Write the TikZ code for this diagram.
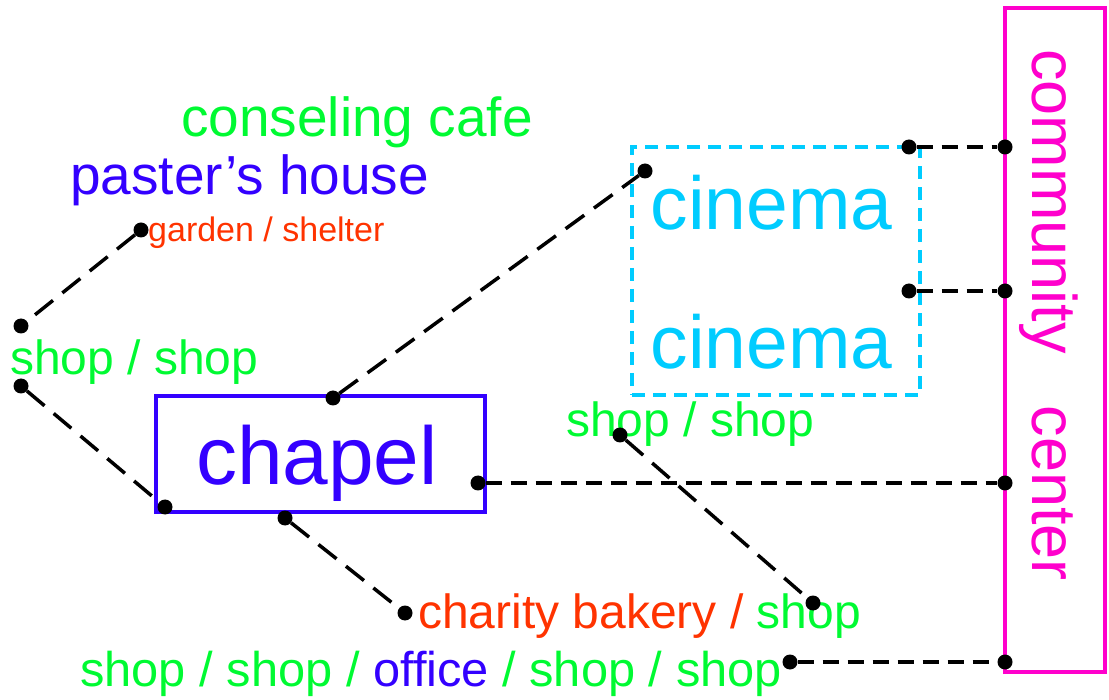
\documentclass[tikz,border=0pt]{standalone}
\usepackage{fontspec}
\setmainfont{Liberation Sans}
\definecolor{cgreen}{RGB}{0,250,50}
\definecolor{cblue}{RGB}{51,0,255}
\definecolor{cred}{RGB}{255,51,0}
\definecolor{ccyan}{RGB}{0,204,255}
\definecolor{cmag}{RGB}{255,0,204}
\newcommand\fszHuge{\fontsize{82pt}{90pt}\selectfont}
\newcommand\fszBig{\fontsize{75pt}{80pt}\selectfont}
\newcommand\fszComm{\fontsize{63pt}{70pt}\selectfont}
\newcommand\fszMid{\fontsize{55pt}{60pt}\selectfont}
\newcommand\fszShop{\fontsize{48pt}{52pt}\selectfont}
\newcommand\fszShopB{\fontsize{48.8pt}{52pt}\selectfont}
\newcommand\fszSmall{\fontsize{34pt}{38pt}\selectfont}
\begin{document}
\begin{tikzpicture}[x=1pt,y=-1pt,
  dot/.style={circle,fill=black,inner sep=0pt,minimum size=15pt},
  longdash/.style={line width=3.5pt,dash pattern=on 23pt off 12pt},
  shortdash/.style={line width=3.5pt,dash pattern=on 16pt off 9pt},
  lbl/.style={inner sep=0pt,anchor=base west},
  ]
\useasboundingbox (0,0) rectangle (1109,700);
% boxes
\node (chapelbox) [draw=cblue,line width=3.5pt,minimum width=329pt,minimum height=116pt,inner sep=0pt] at (320.5,454) {};
\node (cinemabox) [draw=ccyan,line width=3.5pt,dash pattern=on 13pt off 8pt,minimum width=288pt,minimum height=248pt,inner sep=0pt] at (776,271) {};
\node (commbox) [draw=cmag,line width=3.5pt,minimum width=100pt,minimum height=664pt,inner sep=0pt] at (1055,340) {};
% texts
\node (chapel) [inner sep=0pt,anchor=base,text=cblue] at (317,485) {\fszHuge chapel};
\node (cinemaA) [inner sep=0pt,anchor=base,text=ccyan] at (771.5,230) {\fszBig cinema};
\node (cinemaB) [inner sep=0pt,anchor=base,text=ccyan] at (771.5,369) {\fszBig cinema};
\node (comm) [inner sep=0pt,anchor=base,rotate=-90,text=cmag] at (1032,315) {\fszComm community\hspace{52pt}center};
\node (cafe) [lbl,text=cgreen] at (181,137) {\fszMid conseling cafe};
\node (paster) [lbl,text=cblue] at (70,195) {\fszMid paster’s house};
\node (garden) [lbl,text=cred] at (148,242) {\fszSmall garden / shelter};
\node (shopL) [lbl,text=cgreen] at (10,375) {\fszShop shop / shop};
\node (shopM) [lbl,text=cgreen] at (566,437) {\fszShop shop / shop};
\node (bakery) [lbl] at (418,628) {\fszShop\textcolor{cred}{charity bakery /} \textcolor{cgreen}{shop}};
\node (bottom) [lbl,text=cgreen] at (80,686) {\fszShopB shop / shop / \textcolor{cblue}{office} / shop / shop};
% dots
\node (dGarden) [dot] at (141,230) {};
\node (dLeftTop) [dot] at (21,326) {};
\node (dLeftBot) [dot] at (21,386) {};
\node (dChBL) [dot] at (165,507) {};
\node (dChTop) [dot] at (333,398) {};
\node (dChRight) [dot] at (478,483) {};
\node (dChBot) [dot] at (285,518) {};
\node (dCharity) [dot] at (405,613) {};
\node (dCinema) [dot] at (645,171) {};
\node (dCinR1) [dot] at (909,147) {};
\node (dCinR2) [dot] at (909,291) {};
\node (dComm1) [dot] at (1005,147) {};
\node (dComm2) [dot] at (1005,291) {};
\node (dComm3) [dot] at (1005,483) {};
\node (dComm4) [dot] at (1005,662) {};
\node (dShopM) [dot] at (620,435) {};
\node (dBakShop) [dot] at (813,603) {};
\node (dBottom) [dot] at (790,662) {};
% connectors
\draw[longdash] (dGarden) -- (dLeftTop);
\draw[longdash] (dLeftBot) -- (dChBL);
\draw[longdash] (dChTop) -- (dCinema);
\draw[longdash] (dChBot) -- (dCharity);
\draw[longdash] (dShopM) -- (dBakShop);
\draw[shortdash] (dChRight) -- (dComm3);
\draw[shortdash] (dCinR1) -- (dComm1);
\draw[shortdash] (dCinR2) -- (dComm2);
\draw[shortdash] (dBottom) -- (dComm4);
\end{tikzpicture}
\end{document}
